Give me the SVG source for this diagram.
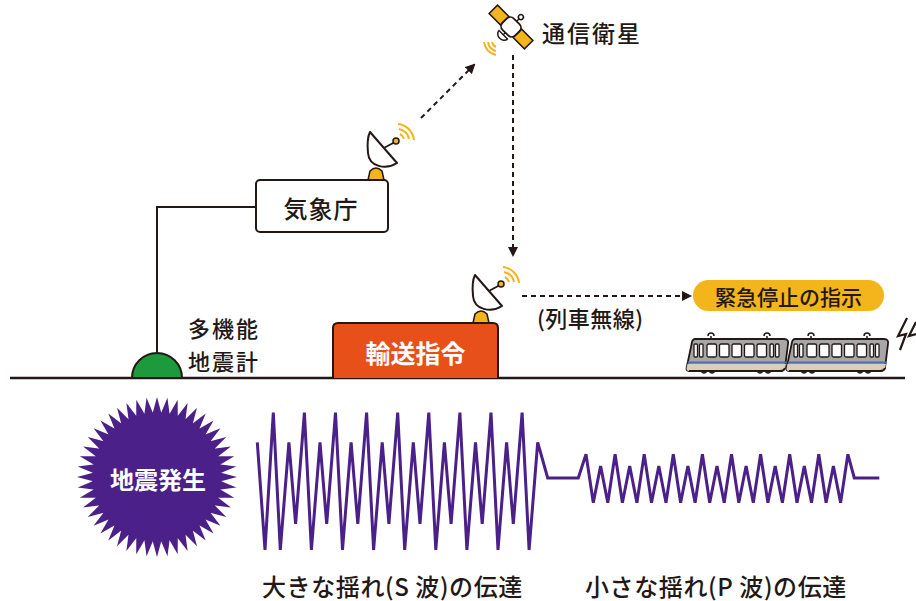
<svg xmlns="http://www.w3.org/2000/svg" xmlns:xlink="http://www.w3.org/1999/xlink" width="916" height="601" viewBox="0 0 916 601">
  <style>
    .txt { font-family: "Noto Sans CJK JP", "Noto Sans", sans-serif; fill: #231815; dominant-baseline: central; }
    .wtxt { font-family: "Noto Sans CJK JP", "Noto Sans", sans-serif; fill: #ffffff; dominant-baseline: central; font-weight: 700; text-anchor: middle; }
    .line { fill: none; stroke: #231815; stroke-width: 2; }
    .dash { fill: none; stroke: #231815; stroke-width: 2; stroke-dasharray: 5 4; }
    .wave { fill: none; stroke: #4b2088; stroke-width: 3; stroke-linejoin: miter; }
    .yel { fill: #f3b51b; stroke: #231815; stroke-width: 1.5; }
    .sig { fill: none; stroke: #f3b51b; stroke-width: 2; }
  </style>
  <defs>
    <marker id="ah" viewBox="0 0 10 10" refX="8" refY="5" markerWidth="5" markerHeight="5" orient="auto" markerUnits="strokeWidth">
      <path d="M0,0 L10,5 L0,10 Z" fill="#231815"/>
    </marker>
    <!-- parabolic dish antenna, origin at centre of its base -->
    <g id="dish">
      <path class="yel" d="M-8,0 L-6,-9 Q0,-15 6,-9 L8,0 Z"/>
      <line x1="6" y1="-31" x2="19" y2="-38" stroke="#231815" stroke-width="1.8"/>
      <path d="M-6,-48 L21,-17 C10,-10 -7,-13 -8,-27 C-9,-37 -8,-44 -6,-48 Z" fill="#fff" stroke="#231815" stroke-width="2" stroke-linejoin="round"/>
      <circle class="yel" cx="20" cy="-39" r="3"/>
      <path class="sig" d="M24,-46 A8,8 0 0 1 28,-41"/>
      <path class="sig" d="M23,-51 A13,13 0 0 1 33,-41"/>
      <path class="sig" d="M22,-56 A18,18 0 0 1 38,-40"/>
    </g>
    <!-- spike of the burst -->
    <polygon id="spike" points="-4.6,-63 4.6,-63 0,-80" fill="#4b2088"/>
    <!-- train car -->
    <g id="car">
      <path d="M9,0 L98,0 Q103,0 102,5 L99,29 Q98,32 94,32 L3,32 Q0,32 0.6,29 L6,3 Q7,0 9,0 Z" fill="#a7a7a7" stroke="#231815" stroke-width="1.8"/>
      <path d="M1.5,25 L100,25 L99,29 Q98,32 94,32 L3,32 Q0,32 0.6,29 Z" fill="#d9cfb8" stroke="none"/>
      <line x1="1.8" y1="23.5" x2="100.2" y2="23.5" stroke="#4a6fb5" stroke-width="2"/>
      <path d="M3,32 L94,32 Q98,32 99,29" fill="none" stroke="#231815" stroke-width="1.8"/>
      <g fill="#fff" stroke="#231815" stroke-width="1.3">
        <rect x="8" y="5" width="3.5" height="13" rx="1"/>
        <rect x="13.5" y="5" width="3.5" height="13" rx="1"/>
        <rect x="21" y="5" width="9.5" height="13" rx="1.5"/>
        <rect x="33.5" y="5" width="9.5" height="13" rx="1.5"/>
        <rect x="46" y="5" width="9.5" height="13" rx="1.5"/>
        <rect x="58.5" y="5" width="9.5" height="13" rx="1.5"/>
        <rect x="71" y="5" width="9.5" height="13" rx="1.5"/>
        <rect x="84" y="5" width="3.5" height="13" rx="1"/>
        <rect x="89.5" y="5" width="3.5" height="13" rx="1"/>
      </g>
      <g fill="none" stroke="#231815" stroke-width="1.5">
        <path d="M25,0 L25,-3 M22,-3 A3,3 0 1 1 28,-3"/>
        <path d="M81,0 L81,-3 M78,-3 A3,3 0 1 1 84,-3"/>
        <path d="M15,32 Q18,36 21,32 M23,32 Q26,36 29,32 M71,32 Q74,36 77,32 M79,32 Q82,36 85,32"/>
      </g>
    </g>
  </defs>

  <!-- connectors -->
  <g id="connectors">
    <polyline class="line" points="157,352 157,207 256,207"/>
    <line class="dash" x1="421" y1="118" x2="474" y2="65" marker-end="url(#ah)"/>
    <line class="dash" x1="513" y1="55" x2="513" y2="255" marker-end="url(#ah)"/>
    <line class="dash" x1="522" y1="296" x2="690" y2="296" marker-end="url(#ah)"/>
  </g>

  <!-- ground -->
  <line x1="10" y1="378" x2="905" y2="378" stroke="#231815" stroke-width="2.5"/>

  <!-- communication satellite -->
  <g id="satellite">
    <g transform="translate(511,27) rotate(45)">
      <rect x="-25" y="-6" width="16" height="12" fill="#f3b51b" stroke="#231815" stroke-width="1.5"/>
      <rect x="9" y="-6" width="16" height="12" fill="#f3b51b" stroke="#231815" stroke-width="1.5"/>
      <rect x="-9" y="-8" width="18" height="16" rx="5" fill="#fff" stroke="#231815" stroke-width="1.8"/>
      <path d="M0,-8 L0,-12" stroke="#231815" stroke-width="1.5"/>
      <circle cx="0" cy="-14" r="2.5" fill="#fff" stroke="#231815" stroke-width="1.5"/>
      <path d="M0,8 L0,11" stroke="#231815" stroke-width="1.5"/>
      <path d="M-6,11 A6,5 0 0 0 6,11 Z" fill="#fff" stroke="#231815" stroke-width="1.5"/>
    </g>
    <g transform="translate(498,40)">
      <path class="sig" d="M-6,2 A7,7 0 0 0 -2,7"/>
      <path class="sig" d="M-10,2 A11,11 0 0 0 -2,11"/>
      <path class="sig" d="M-14,2 A15,15 0 0 0 -2,15"/>
    </g>
    <text class="txt" x="542" y="32" font-size="23" font-weight="500" letter-spacing="2">通信衛星</text>
  </g>

  <!-- Japan Meteorological Agency -->
  <g id="jma">
    <use xlink:href="#dish" href="#dish" transform="translate(376,180)"/>
    <rect x="256" y="180" width="132" height="52" rx="4" fill="#fff" stroke="#231815" stroke-width="2"/>
    <text class="txt" x="321" y="207" font-size="24" font-weight="500" text-anchor="middle" letter-spacing="1">気象庁</text>
  </g>

  <!-- multi-function seismometer -->
  <g id="seismometer">
    <path d="M132,378 A25,25 0 0 1 182,378 Z" fill="#1c9a3c" stroke="#231815" stroke-width="2"/>
    <text class="txt" x="188" y="327" font-size="22" font-weight="500" letter-spacing="2">多機能</text>
    <text class="txt" x="188" y="360" font-size="22" font-weight="500" letter-spacing="2">地震計</text>
  </g>

  <!-- transport dispatch centre -->
  <g id="dispatch">
    <use xlink:href="#dish" href="#dish" transform="translate(481,323)"/>
    <path d="M333,378 L333,328 Q333,323 338,323 L493,323 Q498,323 498,328 L498,378" fill="#e8501a" stroke="#231815" stroke-width="2"/>
    <text class="wtxt" x="415.5" y="352" font-size="25">輸送指令</text>
    <text class="txt" x="537" y="317" font-size="22" font-weight="500" letter-spacing="0.5">(列車無線)</text>
  </g>

  <!-- emergency stop order -->
  <g id="stop-order">
    <rect x="693" y="280" width="191" height="31" rx="15.5" fill="#f3b51b"/>
    <text class="txt" x="788.5" y="296" font-size="21" font-weight="500" text-anchor="middle">緊急停止の指示</text>
  </g>

  <!-- train -->
  <g id="train">
    <use xlink:href="#car" href="#car" transform="translate(686,339)"/>
    <use xlink:href="#car" href="#car" transform="translate(786,339)"/>
    <path d="M907,318 L898,336 L906,334 L900,350" fill="none" stroke="#231815" stroke-width="2.2" stroke-linejoin="miter"/>
    <path d="M916,322 L909,336 L916,334" fill="none" stroke="#231815" stroke-width="2.2"/>
  </g>

  <!-- earthquake burst -->
  <g id="quake">
    <g transform="translate(157,477)">
      <circle r="64.5" fill="#4b2088"/>
      <use href="#spike" xlink:href="#spike" transform="rotate(0)"/>
      <use href="#spike" xlink:href="#spike" transform="rotate(7.5)"/>
      <use href="#spike" xlink:href="#spike" transform="rotate(15)"/>
      <use href="#spike" xlink:href="#spike" transform="rotate(22.5)"/>
      <use href="#spike" xlink:href="#spike" transform="rotate(30)"/>
      <use href="#spike" xlink:href="#spike" transform="rotate(37.5)"/>
      <use href="#spike" xlink:href="#spike" transform="rotate(45)"/>
      <use href="#spike" xlink:href="#spike" transform="rotate(52.5)"/>
      <use href="#spike" xlink:href="#spike" transform="rotate(60)"/>
      <use href="#spike" xlink:href="#spike" transform="rotate(67.5)"/>
      <use href="#spike" xlink:href="#spike" transform="rotate(75)"/>
      <use href="#spike" xlink:href="#spike" transform="rotate(82.5)"/>
      <use href="#spike" xlink:href="#spike" transform="rotate(90)"/>
      <use href="#spike" xlink:href="#spike" transform="rotate(97.5)"/>
      <use href="#spike" xlink:href="#spike" transform="rotate(105)"/>
      <use href="#spike" xlink:href="#spike" transform="rotate(112.5)"/>
      <use href="#spike" xlink:href="#spike" transform="rotate(120)"/>
      <use href="#spike" xlink:href="#spike" transform="rotate(127.5)"/>
      <use href="#spike" xlink:href="#spike" transform="rotate(135)"/>
      <use href="#spike" xlink:href="#spike" transform="rotate(142.5)"/>
      <use href="#spike" xlink:href="#spike" transform="rotate(150)"/>
      <use href="#spike" xlink:href="#spike" transform="rotate(157.5)"/>
      <use href="#spike" xlink:href="#spike" transform="rotate(165)"/>
      <use href="#spike" xlink:href="#spike" transform="rotate(172.5)"/>
      <use href="#spike" xlink:href="#spike" transform="rotate(180)"/>
      <use href="#spike" xlink:href="#spike" transform="rotate(187.5)"/>
      <use href="#spike" xlink:href="#spike" transform="rotate(195)"/>
      <use href="#spike" xlink:href="#spike" transform="rotate(202.5)"/>
      <use href="#spike" xlink:href="#spike" transform="rotate(210)"/>
      <use href="#spike" xlink:href="#spike" transform="rotate(217.5)"/>
      <use href="#spike" xlink:href="#spike" transform="rotate(225)"/>
      <use href="#spike" xlink:href="#spike" transform="rotate(232.5)"/>
      <use href="#spike" xlink:href="#spike" transform="rotate(240)"/>
      <use href="#spike" xlink:href="#spike" transform="rotate(247.5)"/>
      <use href="#spike" xlink:href="#spike" transform="rotate(255)"/>
      <use href="#spike" xlink:href="#spike" transform="rotate(262.5)"/>
      <use href="#spike" xlink:href="#spike" transform="rotate(270)"/>
      <use href="#spike" xlink:href="#spike" transform="rotate(277.5)"/>
      <use href="#spike" xlink:href="#spike" transform="rotate(285)"/>
      <use href="#spike" xlink:href="#spike" transform="rotate(292.5)"/>
      <use href="#spike" xlink:href="#spike" transform="rotate(300)"/>
      <use href="#spike" xlink:href="#spike" transform="rotate(307.5)"/>
      <use href="#spike" xlink:href="#spike" transform="rotate(315)"/>
      <use href="#spike" xlink:href="#spike" transform="rotate(322.5)"/>
      <use href="#spike" xlink:href="#spike" transform="rotate(330)"/>
      <use href="#spike" xlink:href="#spike" transform="rotate(337.5)"/>
      <use href="#spike" xlink:href="#spike" transform="rotate(345)"/>
      <use href="#spike" xlink:href="#spike" transform="rotate(352.5)"/>
    </g>
    <text class="wtxt" x="158" y="478" font-size="24">地震発生</text>
  </g>

  <!-- seismic waves: S wave then P wave -->
  <g id="waves">
    <polyline class="wave" points="257.3,442.3 265,550 273.3,412.7 280.3,550 288.9,442.3 295.6,524 304.4,412.7 311.4,550 320,442.3 326.7,524 335.5,412.7 342.5,550 351.1,442.3 357.8,524 366.6,412.7 373.6,550 382.2,442.3 388.9,524 397.7,412.7 404.7,550 413.3,442.3 420,524 428.8,412.7 435.8,550 444.4,442.3 451.1,524 459.9,412.7 466.9,550 475.5,442.3 482.2,524 491,412.7 498,550 506.6,442.3 513.3,524 522.1,412.7 529.1,550 537.7,442.3 547.7,478 578.3,478 586,454.3 593.3,502.7 600.6,466 607.8,502.7 615.1,454.3 622.4,502.7 629.7,466 636.9,502.7 644.2,454.3 651.5,502.7 658.8,466 666,502.7 673.3,454.3 680.6,502.7 687.9,466 695.1,502.7 702.4,454.3 709.7,502.7 717,466 724.2,502.7 731.5,454.3 738.8,502.7 746.1,466 753.3,502.7 760.6,454.3 767.9,502.7 775.2,466 782.4,502.7 789.7,454.3 797,502.7 804.3,466 811.5,502.7 818.8,454.3 826.1,502.7 833.4,466 840.6,502.7 847.9,454.3 854.3,478 879.3,478"/>
    <text class="txt" x="262" y="585" font-size="24" font-weight="500" letter-spacing="0.6">大きな揺れ(S 波)の伝達</text>
    <text class="txt" x="585" y="585" font-size="24" font-weight="500" letter-spacing="0.6">小さな揺れ(P 波)の伝達</text>
  </g>
</svg>
